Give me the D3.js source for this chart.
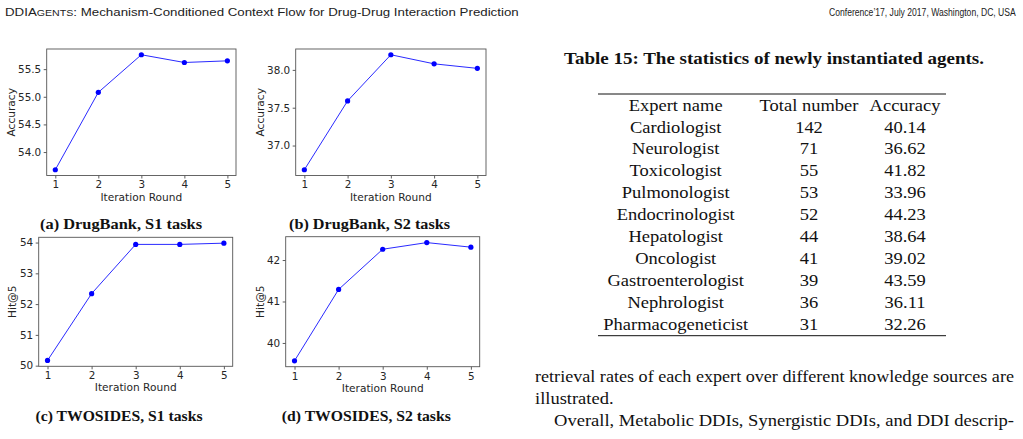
<!DOCTYPE html>
<html>
<head>
<meta charset="utf-8">
<script src="https://cdn.jsdelivr.net/npm/d3@7"></script>
<style>
  html, body { margin: 0; padding: 0; background: #fff; }
  svg { display: block; }
  .tick text { font-family: "DejaVu Sans", sans-serif; font-size: 10.4px; fill: #262626; }
  .axisLab { font-family: "DejaVu Sans", sans-serif; font-size: 10.6px; fill: #262626; }
  .cap { font-family: "Liberation Serif", serif; font-weight: bold; font-size: 14.5px; fill: #111; }
  .tbl { font-family: "Liberation Serif", serif; font-size: 17px; fill: #111; }
  .hdr { font-family: "Liberation Sans", sans-serif; font-size: 11.5px; fill: #222; }
</style>
</head>
<body>
<svg id="page" width="1023" height="439"></svg>
<script>
// iteration rounds (x axis of every small chart)
const rounds = [1, 2, 3, 4, 5];

// values
const drugbankS1 = [53.68, 55.08, 55.76, 55.62, 55.65];
const drugbankS2 = [36.68, 37.59, 38.20, 38.08, 38.02];
const twosidesS1 = [50.17, 52.34, 53.94, 53.94, 53.98];
const twosidesS2 = [39.57, 41.29, 42.26, 42.42, 42.31];

// y tick labels per panel
const ticksA = [54.0, 54.5, 55.0, 55.5];
const ticksB = [37.0, 37.5, 38.0];
const ticksC = [50, 51, 52, 53, 54];
const ticksD = [40, 41, 42];

// table 15
const expertNames = ["Cardiologist", "Neurologist", "Toxicologist", "Pulmonologist", "Endocrinologist",
  "Hepatologist", "Oncologist", "Gastroenterologist", "Nephrologist", "Pharmacogeneticist"];
const totalNumbers = [142, 71, 55, 53, 52, 44, 41, 39, 36, 31];
const accuracies = ["40.14", "36.62", "41.82", "33.96", "44.23", "38.64", "39.02", "43.59", "36.11", "32.26"];
const tableHeader = ["Expert name", "Total number", "Accuracy"];

const svg = d3.select("#page");

// ---- running header (narrow font look: squeeze horizontally)
function squeeze(sel, x, y, w) {
  const w0 = sel.node().getComputedTextLength();
  sel.attr("transform", `translate(${x},${y}) scale(${w / w0},1)`);
}
const hdrL = svg.append("text").attr("class", "hdr");
hdrL.append("tspan").text("DDIA");
hdrL.append("tspan").style("font-size", "9.2px").text("GENTS");
hdrL.append("tspan").text(": Mechanism-Conditioned Context Flow for Drug-Drug Interaction Prediction");
squeeze(hdrL, 5, 16, 514);

const hdrR = svg.append("text").attr("class", "hdr")
  .text("Conference’17, July 2017, Washington, DC, USA");
squeeze(hdrR, 829, 16, 187);

// ---- four line panels
const panels = [
  { values: drugbankS1, ticks: ticksA, fmt: ".1f", yLabel: "Accuracy", caption: "(a) DrugBank, S1 tasks",
    box: { x0: 46.7, x1: 236, y0: 49, y1: 175.5 }, labX: 11, capX: 121, capY: 229, capW: 162 },
  { values: drugbankS2, ticks: ticksB, fmt: ".1f", yLabel: "Accuracy", caption: "(b) DrugBank, S2 tasks",
    box: { x0: 295.7, x1: 486, y0: 49, y1: 175.5 }, labX: 260, capX: 369.5, capY: 229, capW: 161 },
  { values: twosidesS1, ticks: ticksC, fmt: "d", yLabel: "Hit@5", caption: "(c) TWOSIDES, S1 tasks",
    box: { x0: 38.7, x1: 232.7, y0: 237.3, y1: 366.3 }, labX: 12.5, capX: 119, capY: 420.5, capW: 167 },
  { values: twosidesS2, ticks: ticksD, fmt: "d", yLabel: "Hit@5", caption: "(d) TWOSIDES, S2 tasks",
    box: { x0: 285.7, x1: 479.7, y0: 236.7, y1: 366.7 }, labX: 260, capX: 366.3, capY: 420.5, capW: 169 }
];

panels.forEach((p) => {
  const b = p.box;
  const g = svg.append("g");

  const x = d3.scaleLinear().domain([0.8, 5.2]).range([b.x0, b.x1]);
  const [lo, hi] = d3.extent(p.values);
  const pad = (hi - lo) * 0.05;
  const y = d3.scaleLinear().domain([lo - pad, hi + pad]).range([b.y1, b.y0]);

  const xAxis = g.append("g")
    .attr("transform", `translate(0,${b.y1})`)
    .call(d3.axisBottom(x).tickValues(rounds).tickFormat(d3.format("d")).tickSize(3).tickPadding(2.5));
  const yAxis = g.append("g")
    .attr("transform", `translate(${b.x0},0)`)
    .call(d3.axisLeft(y).tickValues(p.ticks).tickFormat(d3.format(p.fmt)).tickSize(3).tickPadding(2.5));
  [xAxis, yAxis].forEach((a) => {
    a.select(".domain").remove();
    a.selectAll(".tick line").attr("stroke", "#333").attr("stroke-width", 0.8);
  });

  g.append("rect")
    .attr("x", b.x0).attr("y", b.y0)
    .attr("width", b.x1 - b.x0).attr("height", b.y1 - b.y0)
    .attr("fill", "none").attr("stroke", "#555").attr("stroke-width", 0.9);

  const pts = rounds.map((r, i) => [r, p.values[i]]);
  g.append("path")
    .datum(pts)
    .attr("fill", "none")
    .attr("stroke", "#2a2aff")
    .attr("stroke-width", 1)
    .attr("d", d3.line().x((d) => x(d[0])).y((d) => y(d[1])));

  g.selectAll("circle.pt")
    .data(pts)
    .enter()
    .append("circle")
    .attr("class", "pt")
    .attr("cx", (d) => x(d[0]))
    .attr("cy", (d) => y(d[1]))
    .attr("r", 2.6)
    .attr("fill", "#0000ff");

  g.append("text")
    .attr("class", "axisLab")
    .attr("x", (b.x0 + b.x1) / 2)
    .attr("y", b.y1 + 25)
    .attr("text-anchor", "middle")
    .text("Iteration Round");

  g.append("text")
    .attr("class", "axisLab")
    .attr("transform", `translate(${p.labX},${(b.y0 + b.y1) / 2}) rotate(-90)`)
    .attr("text-anchor", "middle")
    .attr("dy", "0.35em")
    .text(p.yLabel);

  g.append("text")
    .attr("class", "cap")
    .attr("x", p.capX)
    .attr("y", p.capY)
    .attr("text-anchor", "middle")
    .attr("textLength", p.capW)
    .attr("lengthAdjust", "spacingAndGlyphs")
    .text(p.caption);
});

// ---- table 15
svg.append("text")
  .attr("class", "cap")
  .style("font-size", "16px")
  .attr("x", 774).attr("y", 64)
  .attr("text-anchor", "middle")
  .attr("textLength", 420).attr("lengthAdjust", "spacingAndGlyphs")
  .text("Table 15: The statistics of newly instantiated agents.");

const colX = [675.7, 809, 905];
const row = d3.scaleLinear().domain([0, 10]).range([105, 324]);

const rows = [tableHeader].concat(expertNames.map((n, i) => [n, String(totalNumbers[i]), accuracies[i]]));
const tg = svg.append("g");
const cells = [];
rows.forEach((r, ri) => {
  r.forEach((v, ci) => {
    cells.push(tg.append("text")
      .attr("class", "tbl")
      .attr("x", colX[ci])
      .attr("y", row(ri))
      .attr("dy", "0.33em")
      .attr("text-anchor", "middle")
      .text(v));
  });
});
// Libertine is wider than Times: stretch all cells by the same ratio
const refW = cells[3 * 10].node().getComputedTextLength();
const k = 144.7 / refW;
cells.forEach((c) => c.attr("textLength", c.node().getComputedTextLength() * k).attr("lengthAdjust", "spacingAndGlyphs"));

tg.append("line").attr("x1", 598).attr("x2", 946).attr("y1", 94).attr("y2", 94)
  .attr("stroke", "#111").attr("stroke-width", 1);
tg.append("line").attr("x1", 598).attr("x2", 946).attr("y1", 335.7).attr("y2", 335.7)
  .attr("stroke", "#111").attr("stroke-width", 1);

// ---- body text below the table
const bodyLines = [
  { t: "retrieval rates of each expert over different knowledge sources are", x: 535, w: 479, y: 382 },
  { t: "illustrated.", x: 535, w: null, y: 404 },
  { t: "Overall, Metabolic DDIs, Synergistic DDIs, and DDI descrip-", x: 554, w: 460, y: 426 }
];
bodyLines.forEach((l) => {
  const t = svg.append("text").attr("class", "tbl").attr("x", l.x).attr("y", l.y).text(l.t);
  const w0 = t.node().getComputedTextLength();
  t.attr("textLength", l.w || w0 * k).attr("lengthAdjust", "spacingAndGlyphs");
});
</script>
</body>
</html>
